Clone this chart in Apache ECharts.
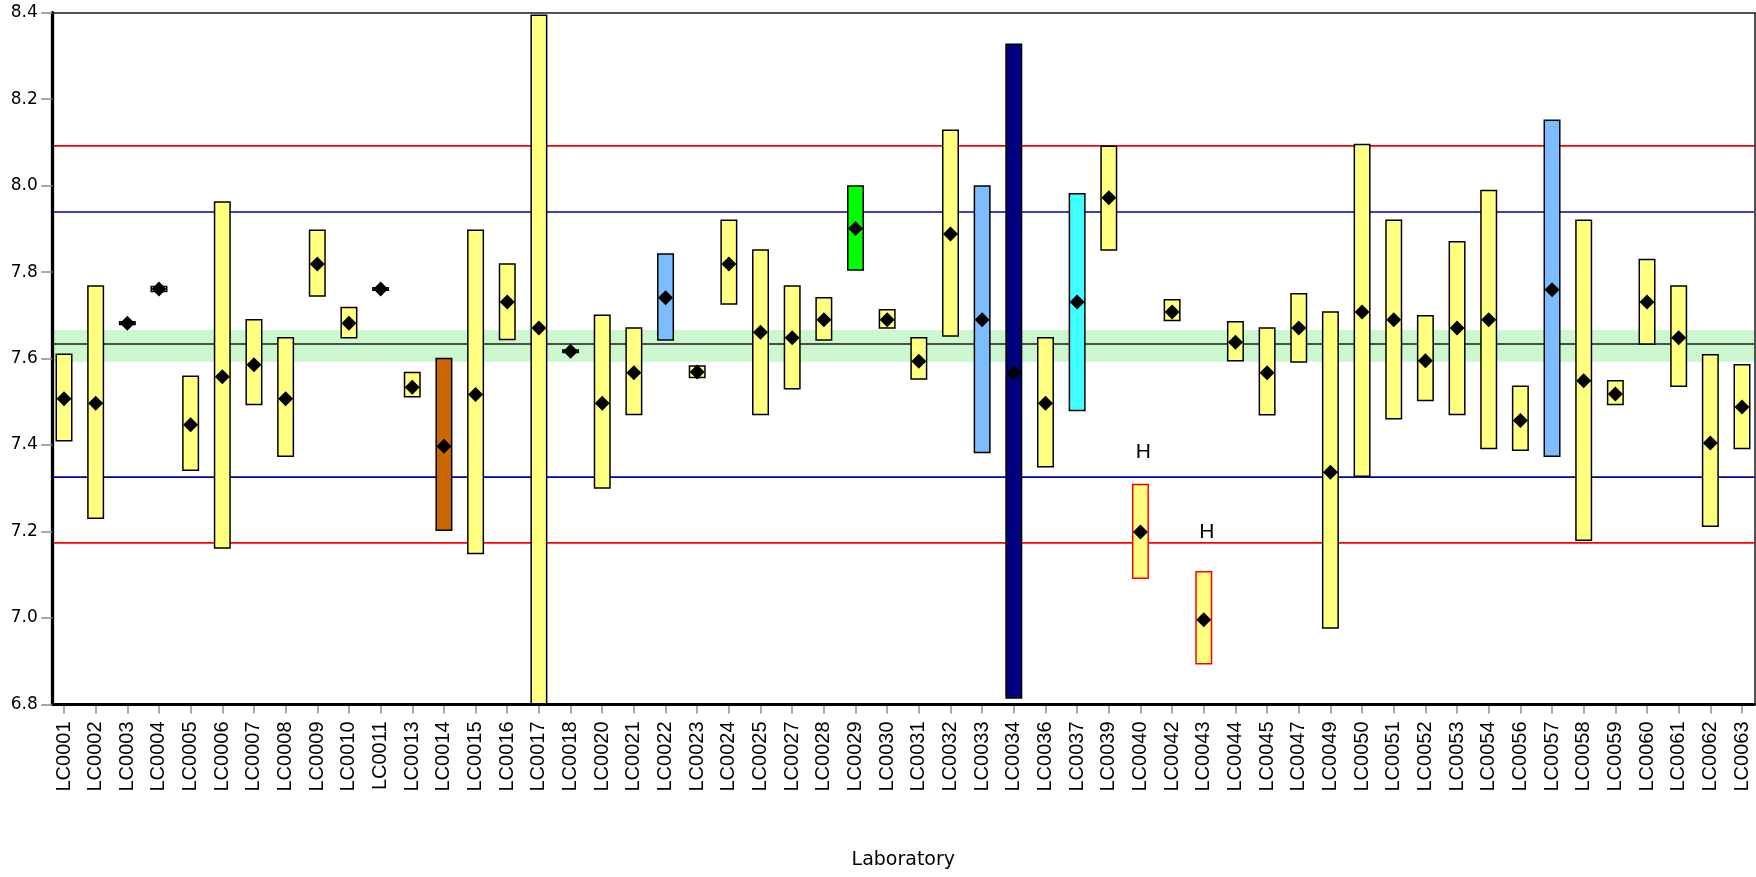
<!DOCTYPE html>
<html>
<head>
<meta charset="utf-8">
<script src="https://cdn.jsdelivr.net/npm/echarts@6/dist/echarts.min.js"></script>
<style>html,body{margin:0;padding:0;background:#fff}#c{width:1756px;height:877px}</style>
</head>
<body>
<div id="c"></div>
<script>
// ---------------- data ----------------
const labs = ['LC0001','LC0002','LC0003','LC0004','LC0005','LC0006','LC0007','LC0008','LC0009','LC0010',
  'LC0011','LC0013','LC0014','LC0015','LC0016','LC0017','LC0018','LC0020','LC0021','LC0022',
  'LC0023','LC0024','LC0025','LC0027','LC0028','LC0029','LC0030','LC0031','LC0032','LC0033',
  'LC0034','LC0036','LC0037','LC0039','LC0040','LC0042','LC0043','LC0044','LC0045','LC0047',
  'LC0049','LC0050','LC0051','LC0052','LC0053','LC0054','LC0056','LC0057','LC0058','LC0059',
  'LC0060','LC0061','LC0062','LC0063'];
const lowVals = [7.410,7.231,7.679,7.755,7.342,7.162,7.494,7.374,7.745,7.648,
  7.758,7.512,7.203,7.149,7.644,6.700,7.614,7.301,7.471,7.643,
  7.556,7.726,7.471,7.530,7.643,7.805,7.671,7.553,7.652,7.383,
  6.815,7.350,7.480,7.851,7.092,7.688,6.894,7.595,7.470,7.592,
  6.977,7.328,7.461,7.503,7.471,7.392,7.388,7.374,7.180,7.494,
  7.634,7.536,7.212,7.392];
const highVals = [7.610,7.768,7.685,7.767,7.559,7.962,7.690,7.648,7.897,7.718,
  7.764,7.568,7.600,7.897,7.819,8.394,7.620,7.700,7.671,7.842,
  7.583,7.920,7.851,7.768,7.741,7.999,7.713,7.648,8.128,7.999,
  8.327,7.648,7.981,8.091,7.309,7.736,7.107,7.685,7.671,7.750,
  7.708,8.095,7.920,7.699,7.870,7.989,7.536,8.151,7.920,7.549,
  7.829,7.768,7.609,7.586];
const meanVals = [7.507,7.497,7.682,7.761,7.447,7.558,7.586,7.507,7.819,7.682,
  7.761,7.534,7.397,7.517,7.731,7.671,7.617,7.497,7.567,7.741,
  7.569,7.819,7.661,7.648,7.690,7.901,7.690,7.594,7.888,7.690,
  7.567,7.497,7.731,7.972,7.199,7.708,6.996,7.638,7.567,7.671,
  7.337,7.708,7.690,7.595,7.671,7.690,7.457,7.759,7.549,7.518,
  7.731,7.648,7.405,7.488];
// method group code per laboratory
const methods = ['A','A','A','A','A','A','A','A','A','A',
  'A','A','B','A','A','A','A','A','A','C',
  'A','A','A','A','A','D','A','A','A','C',
  'E','A','F','A','A','A','A','A','A','A',
  'A','A','A','A','A','A','A','C','A','A',
  'A','A','A','A'];
// flags ('H' = high z-score outlier)
const flags = ['','','','','','','','','','',
  '','','','','','','','','','',
  '','','','','','','','','','',
  '','','','','H','','H','','','',
  '','','','','','','','','','',
  '','','',''];
const assignedValue = 7.634;
const bandLow = 7.593, bandHigh = 7.666;
const innerLimits = [7.326, 7.939];
const outerLimits = [7.174, 8.092];
const yMin = 6.8, yMax = 8.4, yStep = 0.2;
const xTitle = 'Laboratory';

// ---------------- styles ----------------
const methodColors = {A:'#FFFF80', B:'#CC6600', C:'#7DBDFF', D:'#00FF00', E:'#000080', F:'#40FFFF'};
const hLabelOffsets = {LC0040: 32, LC0043: 40};
const frameL = 52.3, frameT = 12.7, frameR = 1754.3, frameB = 704.5;
const firstC = 64, lastC = 1742;
const nCat = labs.length;
const step = (lastC - firstC) / (nCat - 1);

const chart = echarts.init(document.getElementById('c'), null, {renderer: 'canvas', width: 1756, height: 877});

const refLines = [
  {v: assignedValue, color: '#1a1a1a', w: 1.5},
  {v: innerLimits[0], color: '#0000AA', w: 1.7},
  {v: innerLimits[1], color: '#0000AA', w: 1.7},
  {v: outerLimits[0], color: '#FF0000', w: 1.7},
  {v: outerLimits[1], color: '#FF0000', w: 1.7}
];

const option = {
  animation: false,
  backgroundColor: '#fff',
  grid: [
    {left: firstC - step / 2, top: frameT, width: step * nCat, height: frameB - frameT, containLabel: false, outerBoundsMode: 'none'},
    {left: frameL, top: frameT, width: frameR - frameL, height: frameB - frameT, containLabel: false, outerBoundsMode: 'none'}
  ],
  xAxis: [
    {gridIndex: 0, type: 'category', data: labs, boundaryGap: true,
      axisLine: {show: false},
      axisTick: {show: true, alignWithLabel: true, length: 9, lineStyle: {color: '#8a8a8a', width: 1.5}},
      axisLabel: {interval: 0, rotate: 90, margin: 17, fontSize: 20, fontFamily: 'Liberation Sans', color: '#000'},
      splitLine: {show: false}},
    {gridIndex: 1, type: 'value', min: 0, max: 1, position: 'bottom', z: 10,
      axisLine: {show: true, onZero: false, lineStyle: {color: '#000', width: 3}},
      axisTick: {show: false}, axisLabel: {show: false}, splitLine: {show: false},
      name: xTitle, nameLocation: 'middle', nameGap: 146,
      nameTextStyle: {fontFamily: 'DejaVu Sans', fontSize: 19, color: '#000'}},
    {gridIndex: 1, type: 'value', min: 0, max: 1, position: 'top', z: 10,
      axisLine: {show: true, onZero: false, lineStyle: {color: '#1a1a1a', width: 1.5}},
      axisTick: {show: false}, axisLabel: {show: false}, splitLine: {show: false}}
  ],
  yAxis: [
    {gridIndex: 0, type: 'value', min: yMin, max: yMax, show: false, splitLine: {show: false}},
    {gridIndex: 1, type: 'value', min: yMin, max: yMax, interval: yStep, position: 'left', z: 10,
      axisLine: {show: true, onZero: false, lineStyle: {color: '#000', width: 3.3}},
      axisTick: {show: true, length: 11, lineStyle: {color: '#8a8a8a', width: 1.5}},
      axisLabel: {margin: 14.5, fontSize: 17, fontFamily: 'DejaVu Sans', color: '#000', formatter: v => v.toFixed(1)},
      splitLine: {show: false}},
    {gridIndex: 1, type: 'value', min: yMin, max: yMax, position: 'right', z: 10,
      axisLine: {show: true, onZero: false, lineStyle: {color: '#1a1a1a', width: 1.5}},
      axisTick: {show: false}, axisLabel: {show: false}, splitLine: {show: false}}
  ],
  series: [
    {type: 'custom', xAxisIndex: 1, yAxisIndex: 1, silent: true, z: 1, clip: true,
      data: [[0, bandLow, bandHigh]],
      renderItem: (p, api) => {
        const cs = p.coordSys;
        const yTop = api.coord([0, api.value(2)])[1];
        const yBot = api.coord([0, api.value(1)])[1];
        return {type: 'rect', shape: {x: cs.x, y: yTop, width: cs.width, height: yBot - yTop}, style: {fill: '#CDF7CE'}};
      }},
    {type: 'custom', xAxisIndex: 1, yAxisIndex: 1, silent: true, z: 1, clip: true,
      data: refLines.map((r, i) => [i, r.v]),
      renderItem: (p, api) => {
        const cs = p.coordSys;
        const r = refLines[p.dataIndex];
        const y = api.coord([0, api.value(1)])[1];
        return {type: 'line', shape: {x1: cs.x, y1: y, x2: cs.x + cs.width, y2: y}, style: {stroke: r.color, lineWidth: r.w}};
      }},
    {type: 'custom', xAxisIndex: 0, yAxisIndex: 0, z: 3, clip: true,
      encode: {x: 0, y: [1, 2, 3]},
      data: labs.map((l, i) => [i, lowVals[i], highVals[i], meanVals[i]]),
      renderItem: (p, api) => {
        const i = p.dataIndex;
        const lo = api.coord([api.value(0), api.value(1)]);
        const hi = api.coord([api.value(0), api.value(2)]);
        const mid = api.coord([api.value(0), api.value(3)]);
        const w = 15.5, d = 7.5;
        const flagged = flags[i] === 'H';
        const children = [
          {type: 'rect', shape: {x: lo[0] - w / 2, y: hi[1], width: w, height: Math.max(lo[1] - hi[1], 1.5)},
            style: {fill: methodColors[methods[i]], stroke: flagged ? '#FF0000' : '#000', lineWidth: 1.5}},
          {type: 'polygon', shape: {points: [[mid[0], mid[1] - d], [mid[0] + d, mid[1]], [mid[0], mid[1] + d], [mid[0] - d, mid[1]]]},
            style: {fill: '#000'}}
        ];
        if (flagged) {
          children.push({type: 'text', style: {text: flags[i], x: hi[0] + 3, y: hi[1] - (hLabelOffsets[labs[i]] || 32),
            align: 'center', verticalAlign: 'middle', font: '21px "Liberation Sans"', fill: '#000'}});
        }
        return {type: 'group', children};
      }}
  ]
};
chart.setOption(option);
</script>
</body>
</html>
